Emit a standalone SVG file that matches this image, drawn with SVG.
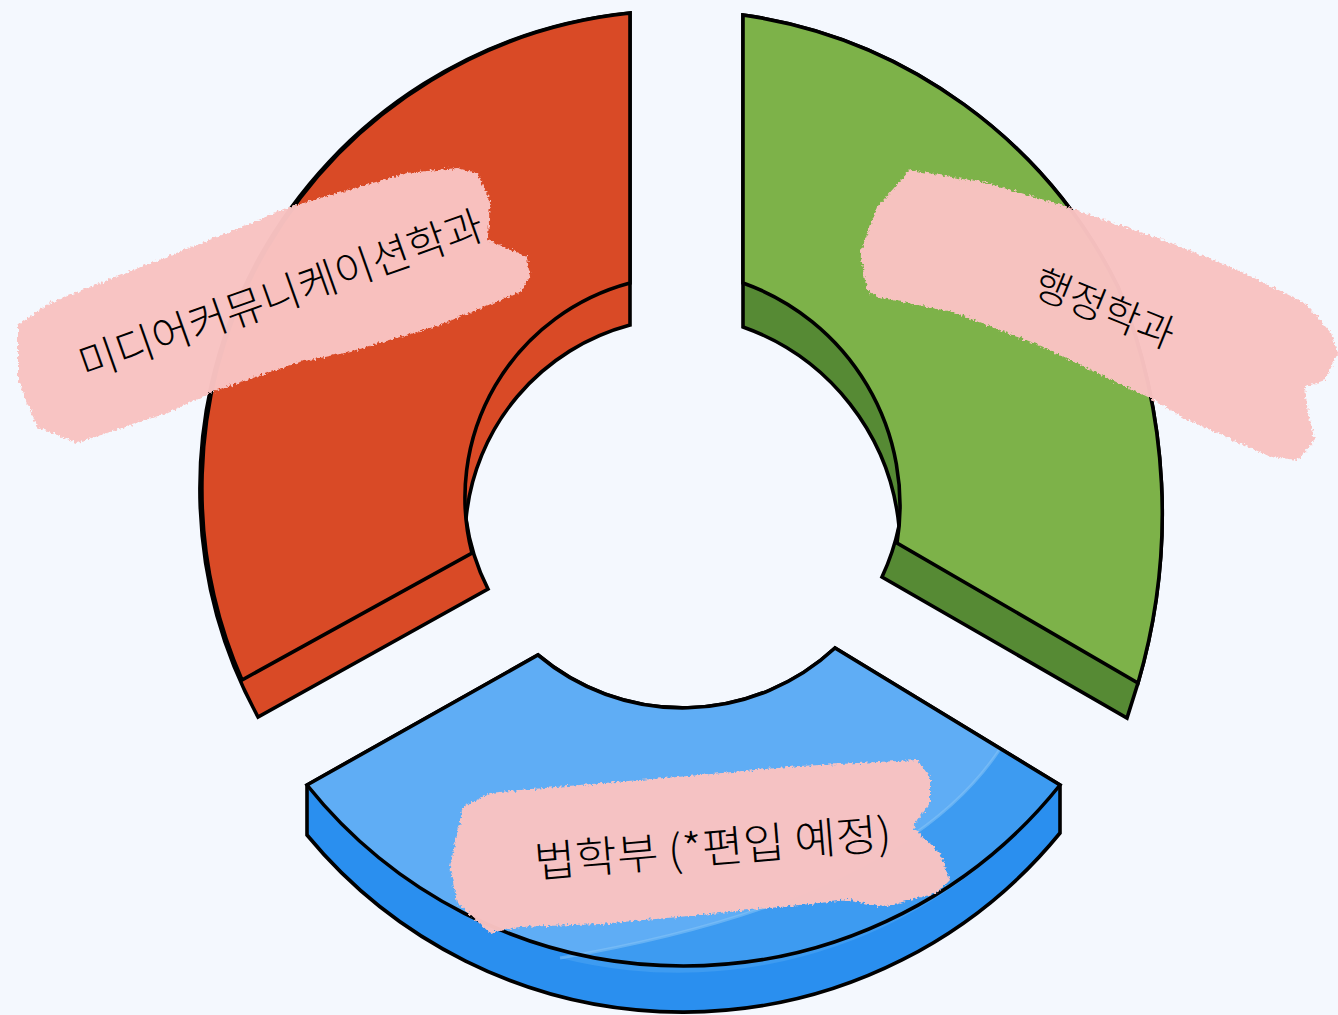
<svg xmlns="http://www.w3.org/2000/svg" width="1338" height="1015" viewBox="0 0 1338 1015">
<style>
.ol{stroke:#000;stroke-width:3.6;stroke-linejoin:miter}
.red{fill:#D94A26}
.gtop{fill:#7DB249}
.gside{fill:#568A34}
.btop{fill:#5FADF5}
.bside{fill:#2A8FEF}
.brush{fill:#F9C3C2;opacity:0.975;filter:url(#rough)}
.lbl{font-family:"Noto Sans CJK KR","Noto Sans",sans-serif;font-weight:300;fill:#000;text-anchor:middle}
</style>
<defs>
<filter id="rough" x="-5%" y="-15%" width="110%" height="130%">
<feTurbulence type="fractalNoise" baseFrequency="0.35" numOctaves="2" seed="7" result="n"/>
<feDisplacementMap in="SourceGraphic" in2="n" scale="6" xChannelSelector="R" yChannelSelector="G" result="d"/>
<feGaussianBlur in="d" stdDeviation="0.6"/>
</filter>
</defs>
<rect width="1338" height="1015" fill="#F4F8FE"/>
<g id="seg-media">
<path class="red ol" d="M630,13 A478,478 0 0 0 258,717 L488,589 A222,222 0 0 1 466,519 A222,222 0 0 1 630,325 Z"/>
<path class="red ol" d="M630,13 A478,478 0 0 0 242,680 L472,553 A222,222 0 0 1 630,283 Z"/>
</g>
<g id="seg-admin">
<path class="gside ol" d="M743,15 A497,497 0 0 1 1118,287 A603,603 0 0 1 1138,683 L1127,718 L882,577 A236,236 0 0 0 899,526 A236,236 0 0 0 743,327 Z"/>
<path class="gtop ol" d="M743,15 A497,497 0 0 1 1118,287 A603,603 0 0 1 1138,683 L897,543 A236,236 0 0 0 743,283 Z"/>
</g>
<g id="seg-law">
<path class="bside ol" d="M307,785 L538,655 A224,224 0 0 0 835,648 L1060,785 L1060,833 A487,487 0 0 1 307,835 Z"/>
<path class="btop" d="M307,785 L538,655 A224,224 0 0 0 835,648 L1060,785 A482,482 0 0 1 307,785 Z"/>
<path fill="#3D9BF1" d="M1000,749 L1060,785 A482,482 0 0 1 560,958 Q900,900 1000,749 Z"/>
<path d="M560,958 Q900,900 1000,749" fill="none" stroke="#8CC7F8" stroke-width="3" opacity="0.5"/>
<path class="ol" fill="none" d="M307,785 L538,655 A224,224 0 0 0 835,648 L1060,785 A482,482 0 0 1 307,785 Z"/>
</g>
<g id="label-media">
<path class="brush" d="M18,325 L50,303 L133,270 L217,237 L290,207 L407,173 L457,168 L477,173 L490,200 L488,240 L527,257 L530,277 L520,292 L440,325 L350,352 L300,362 L217,390 L167,413 L77,443 L37,427 L18,380 Z"/>
<text class="lbl" font-size="42" textLength="426" lengthAdjust="spacingAndGlyphs" transform="translate(286,309) rotate(-19.5)">미디어커뮤니케이션학과</text>
</g>
<g id="label-admin">
<path class="brush" d="M910,170 L987,183 L1068,207 L1171,243 L1238,270 L1305,303 L1331,333 L1338,353 L1325,380 L1305,387 L1308,413 L1315,440 L1298,460 L1271,457 L1188,420 L1148,397 L1038,345 L953,312 L877,297 L867,290 L860,253 L877,207 Z"/>
<text class="lbl" font-size="40" textLength="148" lengthAdjust="spacingAndGlyphs" transform="translate(1099,322) rotate(22)">행정학과</text>
</g>
<g id="label-law">
<path class="brush" d="M463,807 L490,793 L520,790 L700,775 L800,766 L917,760 L930,777 L930,803 L913,827 L940,853 L950,880 L937,893 L883,907 L850,900 L700,915 L600,924 L520,927 L490,933 L457,903 L450,867 Z"/>
<text class="lbl" font-size="43" textLength="358" lengthAdjust="spacingAndGlyphs" transform="translate(714,863) rotate(-4.7)">법학부 (*편입 예정)</text>
</g>
</svg>
